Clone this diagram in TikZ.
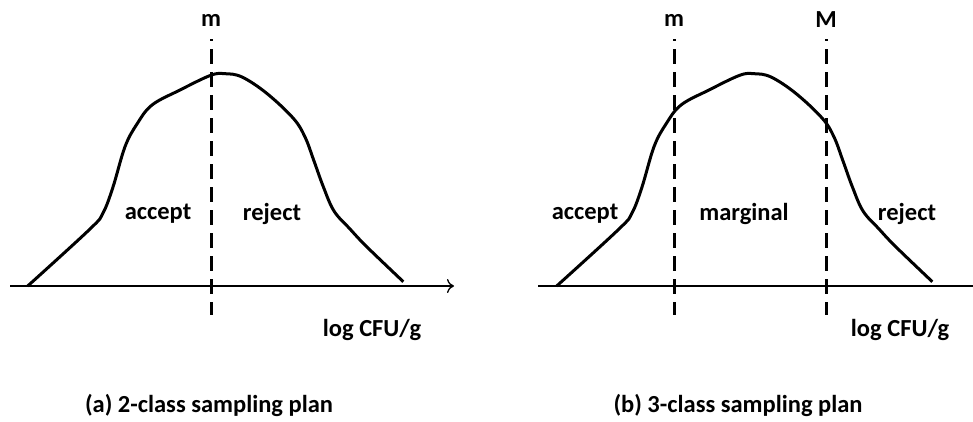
\documentclass[tikz,border=0pt]{standalone}
\usepackage{fontspec}
\setmainfont{Carlito}
\usetikzlibrary{arrows.meta}

\begin{document}
\begin{tikzpicture}[x=1pt,y=-1pt,font=\fontsize{24.5}{28}\selectfont\bfseries,
 curve/.style={line width=3pt,line join=round},
 limit/.style={line width=3pt,dash pattern=on 15pt off 8pt,dash phase=13pt},
 axis/.style={line width=1.3pt,-{To[length=7pt,width=14pt,line width=1.3pt]}},
 lbl/.style={inner sep=0pt}]
\useasboundingbox (0,0) rectangle (973,421);
% the same bell shape in both panels
\foreach \s in {0,529}{
\draw[curve,xshift=\s pt] plot[smooth,tension=0.6] coordinates {(27.7,286) (90,229) (103,213) (113,187) (125,146.7) (137,124) (152,105) (180,90) (210.7,75.3) (225,73.7) (242,77) (266.7,93.3) (293.3,118.3) (305,137) (314,161) (323.3,186.7) (334,211) (350,229) (366.7,246.7) (403.3,281.7)};
}
% (a) 2-class
\coordinate (a0) at (10,286);
\coordinate (a1) at (454,286);
\draw[axis] (a0)--(a1);
\node[lbl] (ma) at (211,20) {m};
\coordinate (mat) at (211,39);
\coordinate (mab) at (211,315);
\draw[limit] (mat)--(mab);
\node[lbl] (acca) at (158,214) {accept};
\node[lbl] (reja) at (272,214) {reject};
\node[lbl] (loga) at (372,330) {log CFU/g};
\node[lbl] (capa) at (209,405) {(a) 2-class sampling plan};
% (b) 3-class
\coordinate (b0) at (538,286);
\coordinate (b1) at (985,286);
\draw[axis] (b0)--(b1);
\node[lbl] (mb) at (674,20) {m};
\node[lbl] (Mb) at (826,20) {M};
\foreach \x/\n in {674/m,826/M}{
\coordinate (\n t) at (\x,39);
\coordinate (\n b) at (\x,315);
\draw[limit] (\n t)--(\n b);
}
\node[lbl] (accb) at (585,214) {accept};
\node[lbl] (marb) at (744,214) {marginal};
\node[lbl] (rejb) at (907,214) {reject};
\node[lbl] (logb) at (900,330) {log CFU/g};
\node[lbl] (capb) at (738,405) {(b) 3-class sampling plan};
\end{tikzpicture}
\end{document}
